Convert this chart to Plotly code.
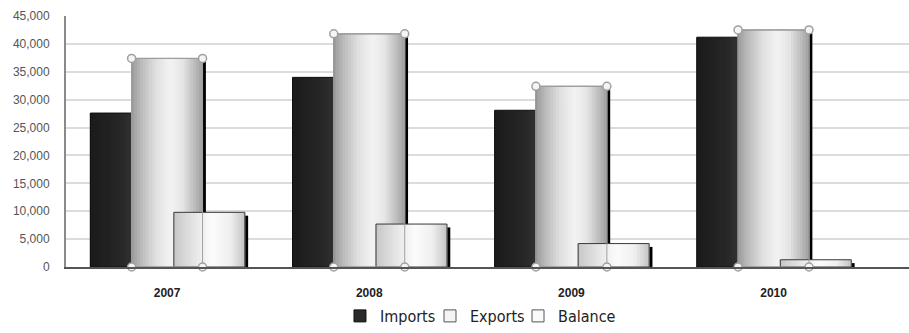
import plotly.graph_objects as go
import numpy as np

# ---- data ----
years = ["2007", "2008", "2009", "2010"]
imports = [27600, 34000, 28100, 41200]
exports = [37400, 41800, 32400, 42500]
balance = [9800, 7700, 4200, 1300]
y_ticks = list(range(0, 45001, 5000))

# ---- style ----
W = 0.351            # bar width (axis units)
OFF_IMP, OFF_EXP, OFF_BAL = -0.204, 0.0, 0.209
SHADOW_W = 0.0165
SHADOW_DROP = 600
N = 24

grad_imp = [(0, 0x1a), (0.45, 0x28), (0.65, 0x35), (1, 0x30)]
grad_exp = [(0, 0x9a), (0.15, 0xbc), (0.35, 0xe0), (0.55, 0xf3), (0.72, 0xe6), (0.88, 0xc0), (1, 0xa0)]
grad_bal = [(0, 0xc6), (0.3, 0xe6), (0.55, 0xfc), (0.8, 0xf0), (1, 0xc4)]


def interp(stops, t):
    xs = [s[0] for s in stops]
    ys = [s[1] for s in stops]
    return float(np.interp(t, xs, ys))


xpos = np.arange(len(years))
fig = go.Figure()


def add_gradient(values, off, stops):
    sw = W / N
    for k in range(N):
        t = (k + 0.5) / N
        g = int(round(interp(stops, t)))
        fig.add_bar(x=xpos + off - W / 2 + (k + 0.5) * sw, y=values, width=sw * 1.3,
                    marker=dict(color=f"rgb({g},{g},{g})", line_width=0),
                    showlegend=False, hoverinfo="skip")


def add_outline(values, off, color, width=1):
    fig.add_bar(x=xpos + off, y=values, width=W,
                marker=dict(color="rgba(0,0,0,0)", line=dict(color=color, width=width)),
                showlegend=False, hoverinfo="skip")


def add_shadow(values, off):
    fig.add_bar(x=xpos + off + W / 2 + SHADOW_W / 2,
                y=[max(v - SHADOW_DROP, 0) for v in values], width=SHADOW_W,
                marker=dict(color="black", line_width=0), showlegend=False, hoverinfo="skip")


# Imports (back)
add_gradient(imports, OFF_IMP, grad_imp)
add_outline(imports, OFF_IMP, "#111111")
# Exports
add_shadow(exports, OFF_EXP)
add_gradient(exports, OFF_EXP, grad_exp)
add_outline(exports, OFF_EXP, "#7a7a7a")
# Balance (front)
add_shadow(balance, OFF_BAL)
add_gradient(balance, OFF_BAL, grad_bal)
add_outline(balance, OFF_BAL, "#3a3a3a")
# selection outline of exports over balance
add_outline(exports, OFF_EXP, "#a0a0a0")

# selection handles on exports bars
hx, hy = [], []
for i, v in enumerate(exports):
    xl = xpos[i] + OFF_EXP - W / 2
    xr = xpos[i] + OFF_EXP + W / 2
    hx += [xl, xr, xl, xr]
    hy += [v, v, 0, 0]
fig.add_scatter(x=hx, y=hy, mode="markers", cliponaxis=False,
                marker=dict(symbol="circle", size=8, color="#f4f4f4",
                            line=dict(color="#a0a0a0", width=1.5)),
                showlegend=False, hoverinfo="skip")

# legend entries (one legend each, for exact placement)
fig.add_bar(x=[None], y=[None], name="Imports", legend="legend",
            marker=dict(color="#2a2a2a", line=dict(color="#111111", width=1)))
fig.add_bar(x=[None], y=[None], name="Exports", legend="legend2",
            marker=dict(color="#f4f4f4", line=dict(color="#555555", width=1)))
fig.add_bar(x=[None], y=[None], name="Balance", legend="legend3",
            marker=dict(color="#fafafa", line=dict(color="#555555", width=1)))

leg_font = dict(family="DejaVu Sans Condensed, DejaVu Sans", size=16, color="#222222")


def leg(x):
    return dict(orientation="h", x=x, xanchor="left", y=-0.195, yanchor="middle",
                font=leg_font, itemwidth=30, bgcolor="rgba(0,0,0,0)")


fig.update_layout(
    width=909, height=333,
    margin=dict(l=66, r=0, t=16, b=65),
    paper_bgcolor="white", plot_bgcolor="white",
    barmode="overlay",
    showlegend=True,
    legend=leg(0.325), legend2=leg(0.4318), legend3=leg(0.5362),
    xaxis=dict(range=[-0.5, 3.67], tickmode="array", tickvals=xpos, ticktext=years,
               showgrid=False, zeroline=False, showline=True, linecolor="#555555", linewidth=1.5,
               ticks="", ticklabelstandoff=14,
               tickfont=dict(family="Liberation Sans, Arial", size=12, color="#222222", weight="bold")),
    yaxis=dict(range=[0, 45000], tickmode="array", tickvals=y_ticks, tickformat=",",
               showgrid=True, gridcolor="#dcdcdc", gridwidth=2, zeroline=False,
               showline=True, linecolor="#8a8a8a", linewidth=2, ticks="", ticklabelstandoff=12,
               tickfont=dict(family="Liberation Sans, Arial", size=12, color="#555555")),
)

fig.write_html("out.html")
